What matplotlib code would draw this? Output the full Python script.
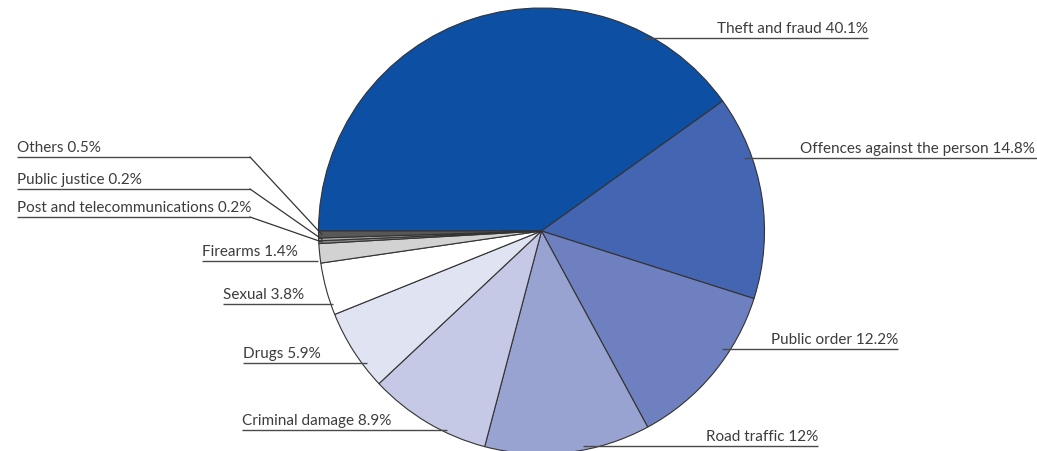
import numpy as np
import matplotlib.pyplot as plt

labels = ['Theft and fraud', 'Offences against the person', 'Public order', 'Road traffic',
          'Criminal damage', 'Drugs', 'Sexual', 'Firearms',
          'Post and telecommunications', 'Public justice', 'Others']
shares = [40.1, 14.8, 12.2, 12, 8.9, 5.9, 3.8, 1.4, 0.2, 0.2, 0.5]
shown = ['40.1%', '14.8%', '12.2%', '12%', '8.9%', '5.9%', '3.8%', '1.4%', '0.2%', '0.2%', '0.5%']
colors = ['#0c4fa3', '#4465b2', '#6e80bf', '#99a3d2', '#c6c9e6', '#e0e3f2', '#ffffff',
          '#d2d2d2', '#8a8a8a', '#a8a8a8', '#585858']

# label layout in pixels: (text x, line y, line x0, line x1, align)
W, H = 1037, 452
layout = [
    (868, 39, 643, 868, 'right'),
    (1035, 159, 744, 1037, 'right'),
    (898, 350, 722, 898, 'right'),
    (818, 447, 583, 818, 'right'),
    (242, 431, 242, 447, 'left'),
    (243, 364, 243, 367, 'left'),
    (223, 305, 223, 333, 'left'),
    (202, 262, 202, 318, 'left'),
    (17, 218, 17, 250, 'left'),
    (17, 190, 17, 250, 'left'),
    (17, 158, 17, 250, 'left'),
]

cx, cy, r = 541.5, H - 232, 223

fig = plt.figure(figsize=(W / 100, H / 100), dpi=100)
ax = fig.add_axes([0, 0, 1, 1])
wedges, _ = ax.pie(shares, colors=colors, startangle=180, counterclock=False,
                   center=(cx, cy), radius=r,
                   wedgeprops=dict(edgecolor='#333333', linewidth=0.8))
ax.set_xlim(0, W)
ax.set_ylim(0, H)
ax.set_aspect('equal')
ax.axis('off')

for i, (w, lab, val) in enumerate(zip(wedges, labels, shown)):
    tx, ly, x0, x1, ha = layout[i]
    y = H - ly
    ax.plot([x0, x1], [y, y], color='#4a4a4a', lw=1, solid_capstyle='butt')
    ax.text(tx, y + 3, f'{lab} {val}', ha=ha, va='bottom', fontsize=11,
            family='Lato', color='#3c3c3c')
    if i >= 8:
        ang = np.deg2rad((w.theta1 + w.theta2) / 2)
        px = cx + 0.985 * r * np.cos(ang)
        py = cy + 0.985 * r * np.sin(ang)
        ax.plot([x1, px], [y, py], color='#333333', lw=0.9)

fig.savefig('out.png', dpi=100)
